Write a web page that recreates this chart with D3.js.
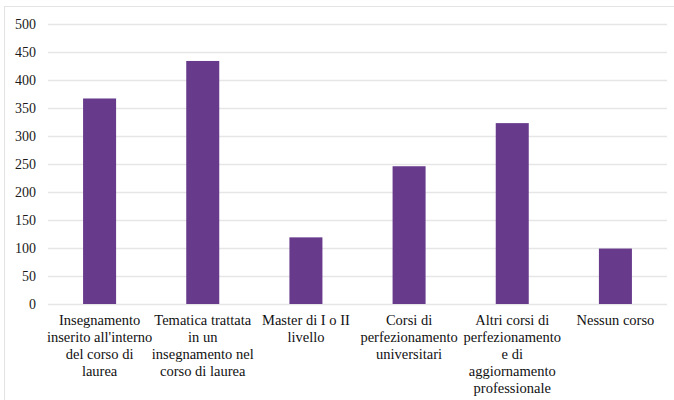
<!DOCTYPE html>
<html>
<head>
<meta charset="utf-8">
<script src="https://cdn.jsdelivr.net/npm/d3@7"></script>
<style>
  html, body { margin: 0; padding: 0; background: #fff; }
  svg { display: block; }
</style>
</head>
<body>
<svg id="chart" width="674" height="400"></svg>
<script>
// Course categories (line breaks as shown under each bar)
const categories = [
  "Insegnamento\ninserito all'interno\ndel corso di\nlaurea",
  "Tematica trattata\nin un\ninsegnamento nel\ncorso di laurea",
  "Master di I o II\nlivello",
  "Corsi di\nperfezionamento\nuniversitari",
  "Altri corsi di\nperfezionamento\ne di\naggiornamento\nprofessionale",
  "Nessun corso"
];
const values = [367, 434, 119, 246, 323, 99];
const yTicks = [0, 50, 100, 150, 200, 250, 300, 350, 400, 450, 500];

const svg = d3.select("#chart");
const W = 674, H = 400;
const plot = { left: 48, right: 667, top: 24, bottom: 304 };
const serif = "\"Liberation Serif\"";

// chart frame
svg.append("rect")
  .attr("x", 4.5).attr("y", 6.5)
  .attr("width", W + 10).attr("height", H + 10)
  .attr("fill", "#fff")
  .attr("stroke", "#e3e3e3").attr("stroke-width", 1);

const x = d3.scaleBand()
  .domain(categories)
  .range([plot.left, plot.right])
  .paddingInner(0.68)
  .paddingOuter(0.34);

const y = d3.scaleLinear()
  .domain([0, 500])
  .range([plot.bottom, plot.top]);

// horizontal gridlines + y labels
const yAxis = d3.axisLeft(y)
  .tickValues(yTicks)
  .tickSize(-(plot.right - plot.left))
  .tickPadding(12);

const gy = svg.append("g")
  .attr("transform", `translate(${plot.left},0)`)
  .call(yAxis)
  .attr("font-family", null)
  .attr("font-size", null);
gy.select(".domain").remove();
gy.selectAll(".tick line")
  .attr("stroke", "#e6e6e6")
  .attr("stroke-width", 1.3);
gy.selectAll(".tick text")
  .style("font-family", serif)
  .style("font-size", "14px")
  .attr("fill", "#1a1a1a");

// bars
svg.append("g")
  .selectAll("rect")
  .data(values)
  .join("rect")
  .attr("x", (d, i) => x(categories[i]))
  .attr("y", d => y(d))
  .attr("width", x.bandwidth())
  .attr("height", d => y(0) - y(d))
  .attr("fill", "#673a8c");

// category labels, one tspan per line
const labels = svg.append("g")
  .selectAll("text")
  .data(categories)
  .join("text")
  .attr("text-anchor", "middle")
  .style("font-family", serif)
  .style("font-size", "14.5px")
  .attr("fill", "#111")
  .attr("transform", d => `translate(${x(d) + x.bandwidth() / 2},325)`);

labels.selectAll("tspan")
  .data(d => d.split("\n"))
  .join("tspan")
  .attr("x", 0)
  .attr("y", (d, i) => i * 17)
  .text(d => d);
</script>
</body>
</html>
